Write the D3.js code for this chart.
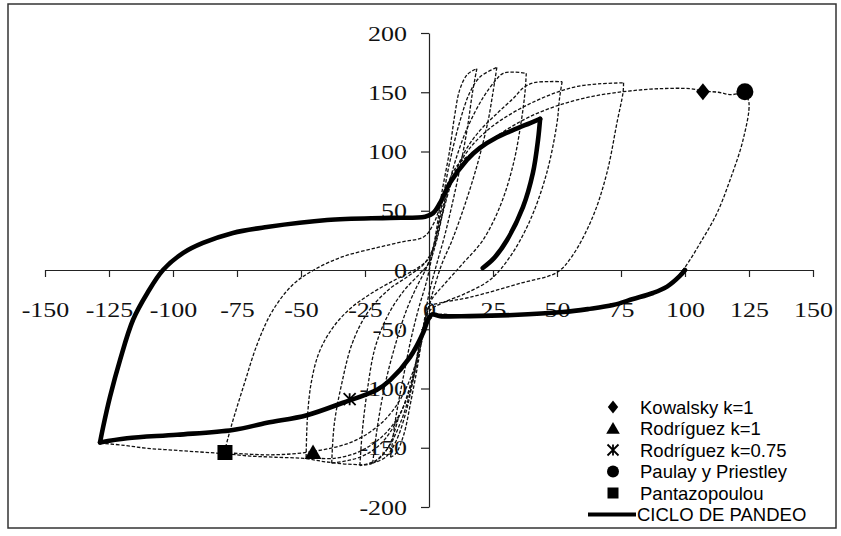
<!DOCTYPE html>
<html><head><meta charset="utf-8">
<script src="https://cdn.jsdelivr.net/npm/d3@7"></script>
<style>
body{margin:0;background:#fff}
.tick text{font-family:"Liberation Serif","Times New Roman",serif !important;font-size:22px !important;fill:#111}
.legend text{font-family:"Liberation Sans",Arial,sans-serif;font-size:18.5px;fill:#000}
</style>
</head><body>
<svg id="chart" width="841" height="536"></svg>
<script>
// Axis ticks
const xTickValues = [-150, -125, -100, -75, -50, -25, 0, 25, 50, 75, 100, 125, 150];
const yTickValues = [-200, -150, -100, -50, 0, 50, 100, 150, 200];

// CICLO DE PANDEO (thick solid curve), [deformation, force]
const pandeoInferior = [[100,0],[98,-5],[93,-14],[87.5,-19.4],[79.7,-24.5],[71.9,-29.6],[62,-33],[52.3,-35.5],[32.8,-38],[16,-38.9],[4.3,-38.9],[1.2,-37.5],[-0.4,-42],[-2.3,-53],[-7.4,-73.5],[-15.2,-92.9],[-20.3,-101],[-33.6,-112],[-47.7,-122.5],[-63.3,-129],[-76.6,-135],[-98.4,-139],[-118,-142],[-128.5,-145.5]];
const pandeoSuperior = [[-128.5,-145.5],[-127.3,-132.6],[-124.6,-107],[-120.7,-76],[-115.6,-42],[-110,-19.4],[-103.9,0],[-96,14.4],[-88.3,22.8],[-76.6,31.3],[-63.3,36.3],[-39.8,42.2],[-15.2,44],[-1.5,45],[1.6,48],[4.3,56.6],[8.2,73.5],[14.8,92.9],[19.9,103],[26.6,112],[32.8,118],[39.5,124],[43.4,127.5]];
const pandeoRetorno = [[43.4,127.5],[42.6,110],[40.6,82],[36.7,53],[30.5,25.3],[25.4,10],[21,1.7]];

// Model cycles (thin dashed): loading branches
const subida1 = [[-15,-158],[-13,-125],[-10,-90],[-7,-58],[-4,-32],[-1,-10],[1,10],[3,35],[5,65],[8,100],[10,130],[12,152],[15,165],[18.7,170]];
const subida2 = [[-22,-163],[-20,-130],[-17,-95],[-13,-62],[-9,-35],[-5,-15],[-1,2],[2,22],[5,55],[8,90],[12,125],[16,150],[20,163],[26.5,171]];
const subida3 = [[-27,-165],[-26,-135],[-24,-100],[-21,-65],[-16,-38],[-10,-18],[-4,-4],[0,6],[3,25],[6,55],[10,90],[15,120],[21,145],[26,160],[29,166],[33,167],[38,166]];
const subida4 = [[-38,-163],[-37,-130],[-34,-95],[-30,-62],[-24,-36],[-16,-17],[-8,-5],[-2,5],[2,20],[5,45],[9,75],[14,100],[20,118],[27,133],[33,145],[37,154],[41,158],[47,159],[52,159]];
const subida5 = [[-48,-158],[-47.5,-125],[-46,-95],[-43,-70],[-38,-50],[-31,-33],[-22,-19],[-13,-8],[-5,1],[0,10],[3,30],[6,58],[10,82],[16,103],[24,120],[33,133],[42,143],[50,150],[58,155],[66,157],[76,158]];
const subida6 = [[-80,-154],[-77,-130],[-72,-95],[-67,-62],[-61,-34],[-53,-12],[-45,0],[-34,11],[-20,19],[-10,24],[-2,28],[2,40],[6,65],[11,88],[20,103],[30,118],[40,130],[52,140],[65,147],[78,151],[90,153],[102,153],[107,151],[113,150],[118,148],[123.4,150]];
// unloading branches
const bajada1 = [[18.7,170],[17,150],[15,120],[12,85],[9,55],[6,28],[3,5],[0,-20],[-2,-45],[-4,-75],[-7,-110],[-10,-140],[-13,-155],[-15,-158]];
const bajada2 = [[26.5,171],[25,150],[23,125],[19,90],[14,55],[9,25],[5,5],[2,-15],[0,-30],[-3,-55],[-6,-90],[-9,-120],[-13,-145],[-17,-158],[-22,-163]];
const bajada3 = [[38,166],[37.5,150],[36,125],[33,90],[28,55],[21,25],[13,5],[6,-12],[1,-25],[-1,-38],[-4,-65],[-7,-100],[-11,-128],[-16,-150],[-21,-161],[-27,-165]];
const bajada4 = [[52,159],[51,145],[50,124],[46,82],[39.5,42],[31.6,11],[24,-8],[14,-20],[5,-28],[0,-35],[-3,-58],[-7,-95],[-12,-125],[-19,-147],[-27,-158],[-38,-163]];
const bajada5 = [[76,158],[75.8,150],[73.4,124],[69.5,82],[64,45],[56,12],[50,-2],[36,-11],[16,-23],[4,-28],[0,-31],[-2,-50],[-6,-90],[-11,-120],[-18,-140],[-27,-153],[-37,-159],[-48,-158]];
const bajada6 = [[123.4,150],[125,141],[122.7,110],[117.6,76],[112.5,48],[106,23],[99.2,0],[93,-14],[80,-25],[62,-33],[40,-37],[15,-39],[3,-38],[-1,-45],[-3,-62],[-7,-90],[-12,-112],[-19,-130],[-30,-145],[-45,-153],[-62,-156],[-80,-154]];
const envolvente = [[-128.5,-146],[-119,-148],[-110,-150.5],[-100,-152],[-90,-153.5],[-80,-155],[-70,-157],[-60,-158],[-49,-159],[-40,-162],[-30,-164],[-22,-163],[-16,-150],[-12,-125]];

// Buckling predictions by model
const kowalsky = [107, 150.5];
const rodriguez1 = [-45.3, -154];
const rodriguez075 = [-31, -109];
const paulayPriestley = [123.4, 150.5];
const pantazopoulou = [-79.7, -154];

const legendLabels = ["Kowalsky k=1", "Rodríguez k=1", "Rodríguez k=0.75", "Paulay y Priestley", "Pantazopoulou", "CICLO DE PANDEO"];

const svg = d3.select('#chart');
const x = d3.scaleLinear().domain([-150, 150]).range([45, 813]);
const y = d3.scaleLinear().domain([-200, 200]).range([507, 33]);

// outer frame
svg.append('rect').attr('x', 8).attr('y', 4).attr('width', 828).attr('height', 524)
  .attr('fill', 'none').attr('stroke', '#333').attr('stroke-width', 1.5);

const sx = 1.18;
const fmt = d => String(d);

// axes
const xAxis = svg.append('g').attr('transform', `translate(0,${y(0)})`)
  .call(d3.axisBottom(x).tickValues(xTickValues).tickSize(7).tickSizeOuter(0).tickPadding(24).tickFormat(fmt));
const yAxis = svg.append('g').attr('transform', `translate(${x(0)},0)`)
  .call(d3.axisLeft(y).tickValues(yTickValues).tickSize(8).tickSizeOuter(0).tickFormat(fmt));
[xAxis, yAxis].forEach(a => {
  a.attr('font-family', null).attr('font-size', null);
  a.select('.domain').attr('stroke', '#222').attr('stroke-width', 1.2);
  a.selectAll('.tick line').attr('stroke', '#222').attr('stroke-width', 1.2);
});
xAxis.selectAll('text').attr('transform', `scale(${sx},1)`);
yAxis.selectAll('text').attr('x', -22 / sx).attr('transform', `scale(${sx},1)`);

const line = d3.line().x(d => x(d[0])).y(d => y(d[1])).curve(d3.curveCatmullRom.alpha(0.5));

// thin dashed model cycles
const ramas = [subida1, bajada1, subida2, bajada2, subida3, bajada3, subida4, bajada4, subida5, bajada5, subida6, bajada6, envolvente];
svg.append('g').selectAll('path').data(ramas).join('path')
  .attr('d', line).attr('fill', 'none').attr('stroke', '#111')
  .attr('stroke-width', 1.3).attr('stroke-dasharray', '3.5,1.8');

// thick buckling cycle
svg.append('g').selectAll('path').data([pandeoInferior, pandeoSuperior, pandeoRetorno]).join('path')
  .attr('d', line).attr('fill', 'none').attr('stroke', '#000')
  .attr('stroke-width', 4.6).attr('stroke-linecap', 'round').attr('stroke-linejoin', 'round');

// marker shapes
const shapes = {
  diamond: s => `M0,${-s}L${s*0.8},0L0,${s}L${-s*0.8},0Z`,
  triangle: s => `M0,${-s}L${s*1.05},${s*0.8}L${-s*1.05},${s*0.8}Z`,
  square: s => `M${-s},${-s}H${s}V${s}H${-s}Z`,
  star: s => `M${-s},${-s}L${s},${s}M${s},${-s}L${-s},${s}M0,${-s}V${s}`,
};
function marker(g, type, px, py, s) {
  if (type === 'circle') {
    g.append('circle').attr('cx', px).attr('cy', py).attr('r', s).attr('fill', '#000');
  } else if (type === 'star') {
    g.append('path').attr('transform', `translate(${px},${py})`).attr('d', shapes.star(s))
      .attr('fill', 'none').attr('stroke', '#000').attr('stroke-width', 1.8);
  } else {
    g.append('path').attr('transform', `translate(${px},${py})`).attr('d', shapes[type](s)).attr('fill', '#000');
  }
}
const mk = svg.append('g');
marker(mk, 'diamond', x(kowalsky[0]), y(kowalsky[1]), 8.5);
marker(mk, 'triangle', x(rodriguez1[0]), y(rodriguez1[1]), 8);
marker(mk, 'star', x(rodriguez075[0]), y(rodriguez075[1]), 6);
marker(mk, 'circle', x(paulayPriestley[0]), y(paulayPriestley[1]), 8.5);
marker(mk, 'square', x(pantazopoulou[0]), y(pantazopoulou[1]), 7.5);

// legend
const lg = svg.append('g').attr('class', 'legend');
const legendTypes = ['diamond', 'triangle', 'star', 'circle', 'square', 'line'];
const legendSizes = [6.5, 6.5, 5.5, 6, 5.5, 0];
legendLabels.forEach((t, i) => {
  const cy = 407 + 21.5 * i;
  if (legendTypes[i] === 'line') {
    lg.append('line').attr('x1', 588).attr('x2', 636).attr('y1', cy).attr('y2', cy)
      .attr('stroke', '#000').attr('stroke-width', 4.2);
  } else {
    marker(lg, legendTypes[i], 613, cy, legendSizes[i]);
  }
  lg.append('text').attr('x', i === 5 ? 637 : 640).attr('y', cy).attr('dy', '0.36em').text(t);
});
</script>
</body></html>
